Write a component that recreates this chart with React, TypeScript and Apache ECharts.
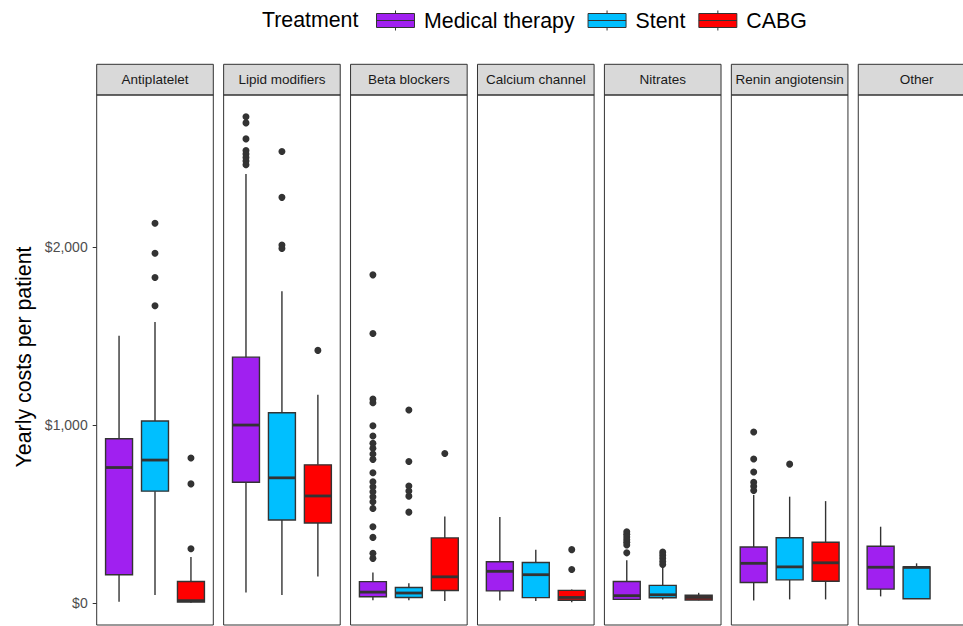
import React, { useEffect, useRef } from 'react';
import * as echarts from 'echarts';

const facets = ['Antiplatelet', 'Lipid modifiers', 'Beta blockers', 'Calcium channel', 'Nitrates', 'Renin angiotensin', 'Other'];
const treatments = ['Medical therapy', 'Stent', 'CABG'];
const treatmentColors = ['#A020F0', '#00BFFF', '#FF0000'];
const yTicks = [0, 1000, 2000];

// [min, Q1, median, Q3, max] per facet
const medicalBox = [
  [6, 158, 761, 923, 1503],
  [58, 678, 1000, 1382, 2412],
  [14, 34, 60, 119, 170],
  [13, 67, 177, 231, 482],
  [15, 19, 40, 120, 240],
  [13, 114, 222, 314, 607],
  [36, 77, 200, 318, 428],
];
const stentBox = [
  [44, 628, 803, 1023, 1580],
  [44, 466, 703, 1069, 1753],
  [14, 30, 55, 86, 110],
  [10, 29, 158, 227, 299],
  [18, 28, 45, 98, 200],
  [19, 129, 202, 366, 597],
  [23, 23, 199, 202, 222],
];
const cabgBox = [
  [0, 4, 12, 120, 258],
  [148, 449, 601, 776, 1170],
  [10, 69, 146, 365, 486],
  [3, 14, 30, 70, 75],
  [14, 16, 30, 42, 56],
  [19, 121, 225, 341, 572],
  null,
];

// outliers per facet
const medicalOut = [
  [],
  [2735, 2700, 2610, 2545, 2525, 2505, 2485, 2465],
  [1845, 1515, 1146, 1125, 996, 938, 897, 869, 837, 807, 732, 681, 653, 625, 597, 568, 531, 428, 368, 278, 250],
  [],
  [400, 385, 370, 355, 340, 325, 281],
  [961, 809, 736, 678, 655, 632],
  [],
];
const stentOut = [
  [2135, 1967, 1830, 1671],
  [2539, 2281, 2013, 1994],
  [1085, 795, 657, 629, 600, 510],
  [],
  [285, 268, 250, 232, 215],
  [780],
  [],
];
const cabgOut = [
  [815, 669, 304],
  [1420],
  [840],
  [299, 187],
  [],
  [],
  [],
];

const boxes = [medicalBox, stentBox, cabgBox];
const outs = [medicalOut, stentOut, cabgOut];

const FONT = "'Liberation Sans', Arial, sans-serif";
const PANEL_LEFT0 = 96.7;
const STRIDE = 126.93;
const PANEL_W = 116.6;
const PANEL_TOP = 95;
const PANEL_BOTTOM = 625;
const STRIP_TOP = 64.3;
const INSET = PANEL_W * 0.1 / 3.2 * 1.2; // ggplot discrete expansion 0.6 vs band 0.5
const Y_MIN = -125;
const Y_MAX = 2857;
const EDGE = '#333333';

function makeRender(color: string) {
  return (params: any, api: any) => {
    const x = api.value(0);
    const lo = api.coord([x, api.value(1)]);
    const q1 = api.coord([x, api.value(2)]);
    const md = api.coord([x, api.value(3)]);
    const q3 = api.coord([x, api.value(4)]);
    const hi = api.coord([x, api.value(5)]);
    const bw = api.size([1, 0])[0] * 0.75;
    const cx = md[0];
    const lineStyle = { stroke: EDGE, lineWidth: 1.4, fill: null };
    return {
      type: 'group',
      children: [
        { type: 'line', shape: { x1: cx, y1: lo[1], x2: cx, y2: q1[1] }, style: lineStyle },
        { type: 'line', shape: { x1: cx, y1: q3[1], x2: cx, y2: hi[1] }, style: lineStyle },
        {
          type: 'rect',
          shape: { x: cx - bw / 2, y: q3[1], width: bw, height: q1[1] - q3[1] },
          style: { fill: color, stroke: EDGE, lineWidth: 1.4 },
        },
        { type: 'line', shape: { x1: cx - bw / 2, y1: md[1], x2: cx + bw / 2, y2: md[1] }, style: { stroke: EDGE, lineWidth: 2.8 } },
      ],
    };
  };
}

export default function App() {
  const ref = useRef<HTMLDivElement>(null);
  useEffect(() => {
    if (!ref.current) return;
    const chart = echarts.init(ref.current, null, { renderer: 'svg' });

    const grid: any[] = [];
    const xAxis: any[] = [];
    const yAxis: any[] = [];
    const series: any[] = [];
    const graphic: any[] = [];

    facets.forEach((name, i) => {
      const left = PANEL_LEFT0 + i * STRIDE;
      grid.push({
        left: left + INSET,
        top: PANEL_TOP,
        width: PANEL_W - 2 * INSET,
        height: PANEL_BOTTOM - PANEL_TOP,
        outerBoundsMode: 'none',
        containLabel: false,
      });
      xAxis.push({ type: 'category', gridIndex: i, data: treatments, show: false });
      yAxis.push({
        type: 'value',
        gridIndex: i,
        min: Y_MIN,
        max: Y_MAX,
        offset: INSET,
        axisLine: { show: false },
        splitLine: { show: false },
        axisTick: { show: i === 0, length: 4, customValues: yTicks, lineStyle: { color: EDGE, width: 1 } },
        axisLabel: {
          show: i === 0,
          customValues: yTicks,
          margin: 9,
          color: '#4d4d4d',
          fontSize: 14,
          fontFamily: FONT,
          formatter: (v: number) => '$' + Number(v).toLocaleString('en-US'),
        },
      });
      treatments.forEach((t, k) => {
        const b = boxes[k][i];
        if (b) {
          series.push({
            type: 'custom',
            name: t,
            xAxisIndex: i,
            yAxisIndex: i,
            itemStyle: { color: treatmentColors[k], borderColor: EDGE, borderWidth: 1 },
            encode: { x: 0, y: [1, 2, 3, 4, 5] },
            renderItem: makeRender(treatmentColors[k]),
            data: [[k, ...b]],
            z: 2,
          });
        }
      });
      const pts: number[][] = [];
      treatments.forEach((_, k) => {
        outs[k][i].forEach((v) => pts.push([k, v]));
      });
      series.push({
        type: 'scatter',
        name: 'outliers',
        xAxisIndex: i,
        yAxisIndex: i,
        symbol: 'circle',
        symbolSize: 7,
        itemStyle: { color: EDGE, opacity: 1 },
        data: pts,
        z: 3,
      });
      // strip
      graphic.push({
        type: 'rect',
        shape: { x: left, y: STRIP_TOP, width: PANEL_W, height: PANEL_TOP - STRIP_TOP },
        style: { fill: '#d9d9d9', stroke: EDGE, lineWidth: 1 },
        z: 5,
      });
      graphic.push({
        type: 'text',
        x: left + PANEL_W / 2,
        y: (STRIP_TOP + PANEL_TOP) / 2,
        style: { text: name, font: `13.5px ${FONT}`, fill: '#1a1a1a', align: 'center', verticalAlign: 'middle' },
        z: 6,
      });
      // panel frame
      graphic.push({
        type: 'rect',
        shape: { x: left, y: PANEL_TOP, width: PANEL_W, height: PANEL_BOTTOM - PANEL_TOP },
        style: { fill: 'none', stroke: EDGE, lineWidth: 1 },
        z: 5,
      });
    });

    graphic.push({
      type: 'text',
      x: 262,
      y: 20,
      style: { text: 'Treatment', font: `21.33px ${FONT}`, fill: '#000', align: 'left', verticalAlign: 'middle' },
    });
    graphic.push({
      type: 'text',
      x: 24,
      y: 357,
      rotation: Math.PI / 2,
      style: { text: 'Yearly costs per patient', font: `21.33px ${FONT}`, fill: '#000', align: 'center', verticalAlign: 'middle' },
    });

    chart.setOption({
      animation: false,
      backgroundColor: '#ffffff',
      grid,
      xAxis,
      yAxis,
      series,
      graphic,
      legend: {
        data: treatments,
        left: 376,
        top: 10,
        padding: 0,
        itemWidth: 39,
        itemHeight: 20,
        itemGap: 13,
        icon: 'path://M0,3H38V17H0Z M0,10H38 M19,0V3 M19,17V20',
        itemStyle: { borderColor: EDGE, borderWidth: 1 },
        textStyle: { fontSize: 21.33, color: '#000', fontFamily: FONT, padding: [0, 0, 0, 4] },
        selectedMode: false,
      },
    });
    return () => chart.dispose();
  }, []);
  return <div ref={ref} style={{ position: 'absolute', left: 0, top: 0, width: 963, height: 626 }} />;
}
